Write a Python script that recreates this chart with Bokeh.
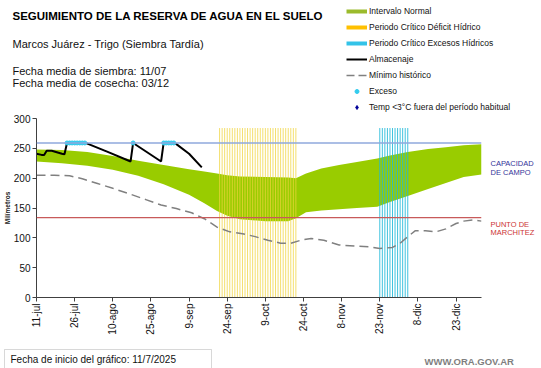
import math
from bokeh.plotting import figure
from bokeh.layouts import column, row
from bokeh.models import (Range1d, FixedTicker, Span, Label, Legend, LegendItem, ColumnDataSource,
                          BoxAnnotation)
from bokeh.embed import file_html
from bokeh.resources import INLINE

# ---------------- data (x = days since 11-jul-2025) ----------------
band_days = [0, 10, 20, 30, 40, 50, 60, 66, 71, 75, 80, 90, 99, 102, 106, 112, 119, 126, 134, 139, 146, 154, 161, 168, 175]
band_upper = [248, 247, 244, 237, 229, 222, 215, 211, 208, 205, 203, 202, 201, 200, 208, 216, 222, 227, 233, 238, 244, 249, 252, 255, 257]
band_lower = [228, 225, 221, 214, 204, 190, 172, 158, 145, 137, 131, 128, 128, 133, 143, 146, 148, 150, 152, 160, 170, 182, 192, 202, 206]

min_days = [0, 7, 13, 18, 24, 30, 37, 43, 49, 55, 61, 66, 71, 76, 81, 86, 91, 96, 100, 104, 108, 113, 119, 126, 131, 135, 140, 143, 146, 149, 153, 157, 161, 165, 168, 172, 175]
min_values = [205, 205, 204, 199, 191, 183, 173, 164, 155, 149, 142, 132, 118, 110, 107, 102, 96, 91, 91, 96, 99, 96, 88, 86, 85, 82, 84, 91, 102, 112, 112, 110, 115, 124, 128, 130, 128]

store_days = [0, 2, 3, 4, 6, 10, 11, 12, 19, 20, 28, 37, 38, 49, 50, 54, 55, 60, 65]
store_values = [241, 239, 239, 246, 246, 241, 240, 259, 259, 258, 244, 228, 259, 228, 259, 259, 257, 241, 218]

excess_days = [12, 13, 14, 15, 16, 17, 18, 19, 38, 50, 51, 52, 53, 54]
excess_values = [259, 259, 259, 259, 259, 259, 259, 259, 259, 259, 259, 259, 259, 259]

deficit_first, deficit_last = 72, 102
surplus_first, surplus_last = 135, 146
critical_top = 284

field_capacity = 259
wilting_point = 134

tick_days = [0, 15, 30, 45, 60, 75, 90, 105, 120, 135, 150, 165]
tick_labels = ["11-jul", "26-jul", "10-ago", "25-ago", "9-sep", "24-sep", "9-oct",
               "24-oct", "8-nov", "23-nov", "8-dic", "23-dic"]
y_ticks = [0, 50, 100, 150, 200, 250, 300]

legend_labels = ["Intervalo Normal", "Periodo Crítico Déficit Hídrico", "Periodo Crítico Excesos Hídricos",
                 "Almacenaje", "Mínimo histórico", "Exceso", "Temp <3°C fuera del período habitual"]

FONT = "Liberation Sans"
TOTAL_W = 541
HEAD_H = 112
MAIN_W = 480
FOOT_TOP = 335
TOTAL_H = 368


def canvas(w, h, x0, x1, y_top, y_bottom):
    c = figure(width=w, height=h, x_range=Range1d(x0, x1), y_range=Range1d(y_bottom, y_top),
               x_axis_location=None, y_axis_location=None, min_border=0,
               toolbar_location=None, output_backend="svg")
    c.outline_line_color = None
    c.grid.visible = False
    c.background_fill_color = "white"
    c.border_fill_color = "white"
    return c


def add_text(fig, txt, x, y, size, color="#111111", style="normal", **kw):
    fig.add_layout(Label(x=x, y=y, text=txt, text_font=FONT, text_font_size=size, text_color=color,
                         text_font_style=style, text_align="left", text_baseline="middle", **kw))


# ---------------- header: titles + legend ----------------
head = canvas(TOTAL_W, HEAD_H, 0, TOTAL_W, 0, HEAD_H)
add_text(head, "SEGUIMIENTO DE LA RESERVA DE AGUA  EN EL SUELO", 12, 15, "11.5px", color="black", style="bold")
add_text(head, "Marcos Juárez - Trigo (Siembra Tardía)", 12, 43.5, "11px")
add_text(head, "Fecha media de siembra: 11/07", 12, 70.5, "11px")
add_text(head, "Fecha media de cosecha: 03/12", 12, 82.5, "11px")

# legend swatch proxies (kept outside the visible header range)
px_, py_ = [-60, -50], [-60, -60]
l1 = head.line(x=px_, y=py_, line_color="#9bbb2c", line_width=4)
l2 = head.line(x=px_, y=py_, line_color="#ffc000", line_width=4)
l3 = head.line(x=px_, y=py_, line_color="#33c3e8", line_width=4)
l4 = head.line(x=px_, y=py_, line_color="black", line_width=2)
l5 = head.line(x=px_, y=py_, line_color="#808080", line_width=1.5, line_dash="8 4")
l6 = head.scatter(x=px_, y=py_, size=2.5, marker="circle", fill_color="#33ccee", line_color="#33ccee")
l7 = head.scatter(x=px_, y=py_, size=6, marker="diamond", fill_color="#000099", line_color="#000099")
legend = Legend(items=[LegendItem(label=t, renderers=[r]) for t, r in zip(legend_labels, [l1, l2, l3, l4, l5, l6, l7])],
                location=(346, 0), orientation="vertical", glyph_width=21, glyph_height=10,
                label_height=10, label_standoff=2, spacing=6, padding=0, margin=0,
                border_line_color=None, background_fill_alpha=0,
                label_text_font_size="8.5px", label_text_font=FONT, label_text_color="#111111")
head.add_layout(legend)

# ---------------- main chart ----------------
p = figure(frame_width=445, frame_height=179, x_range=Range1d(0, 175), y_range=Range1d(0, 300),
           output_backend="svg", toolbar_location=None,
           min_border_left=33, min_border_right=2, min_border_top=6, min_border_bottom=38)
p.outline_line_color = None
p.xgrid.visible = False
p.ygrid.visible = False
p.background_fill_color = "white"
p.border_fill_color = "white"

p.varea(x=band_days, y1=band_lower, y2=band_upper, fill_color="#99cc00", fill_alpha=1.0)

d_days = list(range(deficit_first, deficit_last + 1))
src_d = ColumnDataSource(dict(x=d_days, y0=[0] * len(d_days), y1=[critical_top] * len(d_days)))
p.segment(x0="x", y0="y0", x1="x", y1="y1", source=src_d, line_color="#f0d43c", line_alpha=0.75, line_width=1)
s_days = list(range(surplus_first, surplus_last + 1))
src_s = ColumnDataSource(dict(x=s_days, y0=[0] * len(s_days), y1=[critical_top] * len(s_days)))
p.segment(x0="x", y0="y0", x1="x", y1="y1", source=src_s, line_color="#1fb8d8", line_alpha=0.85, line_width=1)

p.add_layout(Span(location=field_capacity, dimension="width", line_color="#8fa8dc", line_width=1.5))
p.add_layout(Span(location=wilting_point, dimension="width", line_color="#c85a5a", line_width=1.2))

p.line(min_days, min_values, line_color="#808080", line_width=1.5, line_dash="9 5")
p.line(store_days, store_values, line_color="black", line_width=2)
p.scatter(excess_days, excess_values, size=4, marker="circle", fill_color="#33ccee", line_color="#33ccee")

p.xaxis.ticker = FixedTicker(ticks=tick_days)
p.xaxis.major_label_overrides = {d: t for d, t in zip(tick_days, tick_labels)}
p.xaxis.major_label_orientation = math.pi / 2
p.yaxis.ticker = FixedTicker(ticks=y_ticks)
p.yaxis.axis_label = "Milímetros"
p.yaxis.axis_label_text_font = FONT
p.yaxis.axis_label_text_font_size = "6.5px"
p.yaxis.axis_label_text_font_style = "bold"
p.yaxis.axis_label_text_color = "#222222"
p.yaxis.axis_label_standoff = 0
for ax in (p.xaxis, p.yaxis):
    ax.axis_line_color = "#404040"
    ax.major_tick_line_color = "#404040"
    ax.minor_tick_line_color = None
    ax.major_tick_in = 0
    ax.major_tick_out = 4
    ax.major_label_text_font = FONT
    ax.major_label_text_font_size = "10px"
    ax.major_label_text_color = "#111111"
    ax.major_label_standoff = 2

# ---------------- right-side labels ----------------
MAIN_H = FOOT_TOP - HEAD_H
side = canvas(TOTAL_W - MAIN_W, MAIN_H, MAIN_W, TOTAL_W, HEAD_H, FOOT_TOP)
add_text(side, "CAPACIDAD", 487, 169, "7.5px", color="#333399")
add_text(side, "DE  CAMPO", 487, 180, "7.5px", color="#333399")
add_text(side, "PUNTO   DE", 487, 246, "7.5px", color="#cc3333")
add_text(side, "MARCHITEZ", 487, 255, "7.5px", color="#cc3333")

# ---------------- footer ----------------
foot = canvas(TOTAL_W, TOTAL_H - FOOT_TOP, 0, TOTAL_W, FOOT_TOP, TOTAL_H)
foot.add_layout(BoxAnnotation(left=4, right=211, top=347, bottom=366, fill_color="white", fill_alpha=1,
                              line_color="#7f7f7f", line_width=1))
add_text(foot, "Fecha de inicio del gráfico:   11/7/2025", 10, 356.5, "10px")
add_text(foot, "WWW.ORA.GOV.AR", 424, 359, "9.5px", color="#7f7f7f", style="bold")

layout = column(head, row(p, side), foot)
open("out.html", "w").write(file_html(layout, INLINE))
